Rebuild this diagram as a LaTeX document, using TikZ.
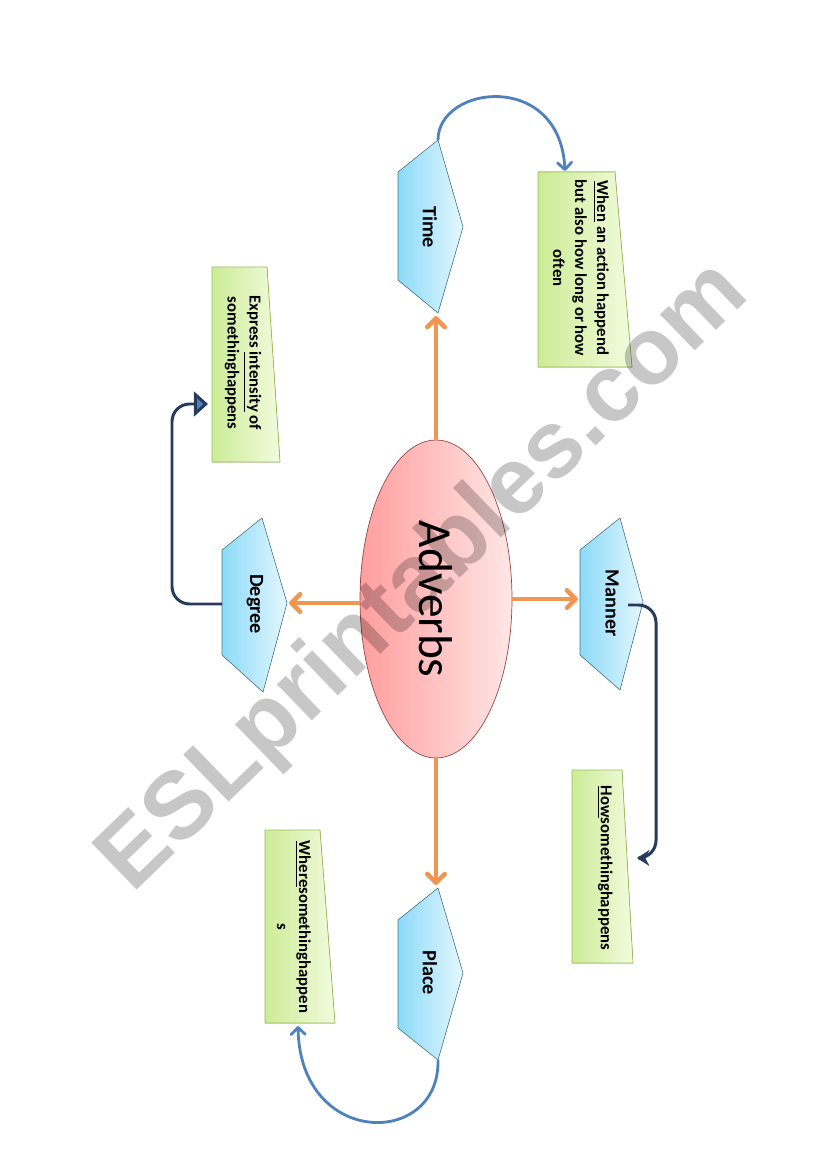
\documentclass[tikz,border=0pt]{standalone}
\usepackage{fontspec}
\setmainfont{Carlito}
\newfontfamily\wmfont{Liberation Sans}
\usetikzlibrary{arrows.meta,shapes.geometric}
\definecolor{headL}{RGB}{140,218,248}
\definecolor{headR}{RGB}{228,247,254}
\definecolor{headline}{RGB}{70,120,135}
\definecolor{noteL}{RGB}{204,236,150}
\definecolor{noteR}{RGB}{242,251,222}
\definecolor{noteline}{RGB}{155,187,89}
\definecolor{advL}{RGB}{255,158,158}
\definecolor{advR}{RGB}{255,230,230}
\definecolor{advline}{RGB}{150,70,70}
\definecolor{spokeor}{RGB}{238,150,82}
\definecolor{curlblue}{RGB}{79,129,189}
\definecolor{hooknavy}{RGB}{38,58,90}
\begin{document}
\begin{tikzpicture}[x=0.02cm, y=-0.02cm,
  head/.style={draw=headline, line width=.3pt, left color=headL, right color=headR},
  note/.style={draw=noteline, line width=.4pt, left color=noteL, right color=noteR},
  headtext/.style={rotate=-90, font=\bfseries\fontsize{11.5}{14}\selectfont},
  notetext/.style={rotate=-90, align=center, font=\bfseries\fontsize{9.5}{12.5}\selectfont},
  spoke/.style={draw=spokeor, line width=2.6pt, -{Straight Barb[round,length=5pt,width=10pt]}},
  curl/.style={draw=curlblue, line width=1.6pt, -{Straight Barb[round,length=4pt,width=8pt]}},
  hook/.style={draw=hooknavy, line width=1.7pt, rounded corners=10}]
\useasboundingbox (0,0) rectangle (826,1169);

% centre
\node[ellipse, draw=advline, line width=.4pt, left color=advL, right color=advR,
  minimum width=3.04cm, minimum height=6.36cm, inner sep=0pt] (adverbs) at (436,599) {};
\node[rotate=-90, font=\fontsize{27}{30}\selectfont] (adverbs-text) at (436,599) {Adverbs};

% Time
\filldraw[head] (398,172) -- (438,140) -- (463,227) -- (438,313) -- (398,280) -- cycle;
\node[headtext] (time) at (430,227) {Time};
\coordinate (time-top) at (438,140);
\coordinate (time-tip) at (436,316);
\filldraw[note] (538,172) -- (615,172) -- (632,367) -- (538,367) -- cycle;
\node[notetext] (time-note) at (581,268) {\underline{When} an action happend\\but also how long or how\\often};
\coordinate (time-in) at (565,171);

% Degree
\filldraw[head] (222,550) -- (262,518) -- (287,603) -- (263,692) -- (222,655) -- cycle;
\node[headtext] (degree) at (255,604) {Degree};
\coordinate (degree-tip) at (289,603);
\coordinate (degree-back) at (222,604);
\filldraw[note] (212,267) -- (267,267) -- (280,462) -- (212,462) -- cycle;
\node[notetext] (degree-note) at (243,363) {Express \underline{intensity} of\\somethinghappens};
\coordinate (degree-in) at (208,404);

% Manner
\filldraw[head] (580,550) -- (620,518) -- (643,602) -- (620,690) -- (580,655) -- cycle;
\node[headtext] (manner) at (612,603) {Manner};
\coordinate (manner-tip) at (578,599);
\coordinate (manner-back) at (628,605);
\filldraw[note] (572,770) -- (622,770) -- (633,963) -- (572,963) -- cycle;
\node[notetext] (manner-note) at (605,868) {\underline{How}somethinghappens};
\coordinate (manner-in) at (637,858);

% Place
\filldraw[head] (398,920) -- (438,888) -- (463,973) -- (438,1060) -- (398,1028) -- cycle;
\node[headtext] (place) at (430,973) {Place};
\coordinate (place-tip) at (436,885);
\coordinate (place-bot) at (438,1060);
\filldraw[note] (265,830) -- (320,830) -- (335,1023) -- (265,1023) -- cycle;
\node[notetext] (place-note) at (294,927) {\underline{Where}somethinghappen\\s};
\coordinate (place-in) at (298,1026);

% spokes
\draw[spoke] (adverbs.north) -- (time-tip);
\draw[spoke] (adverbs.south) -- (place-tip);
\draw[spoke] (adverbs.west |- degree-tip) -- (degree-tip);
\draw[spoke] (adverbs.east |- manner-tip) -- (manner-tip);

% links to notes
\draw[curl] (time-top) .. controls (438,85) and (560,70) .. (time-in);
\draw[curl] (place-bot) .. controls (440,1148) and (300,1148) .. (place-in);
\draw[hook, -{Triangle[length=8pt,width=14pt,fill=curlblue]}] (degree-back) -- ++(-50,0) |- (degree-in);
\draw[hook, -{Stealth[length=7pt,width=9pt]}] (manner-back) -- ++(28,0) |- (manner-in);

% watermark
\node[rotate=44, text=black, opacity=.22, font=\wmfont\bfseries\fontsize{54}{54}\selectfont] (wm) at (425,578) {ESLprintables.com};
\end{tikzpicture}
\end{document}
